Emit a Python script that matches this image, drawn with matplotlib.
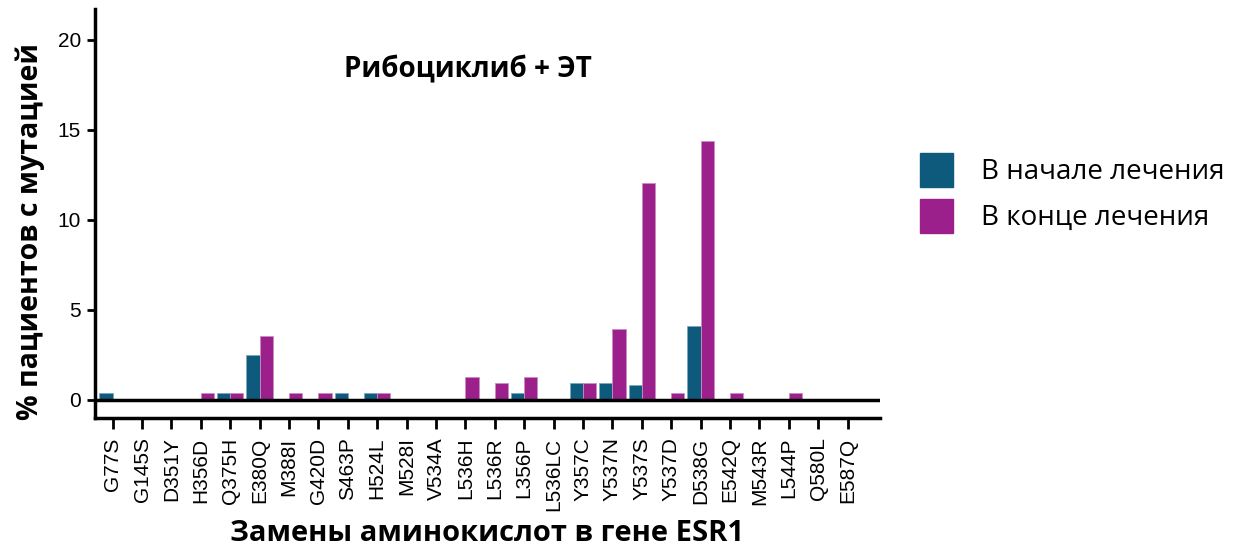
import matplotlib
matplotlib.use("Agg")
import matplotlib.pyplot as plt
import matplotlib.patches as mpatches
import numpy as np

# Data
mutations = ['G77S', 'G145S', 'D351Y', 'H356D', 'Q375H', 'E380Q', 'M388I', 'G420D',
             'S463P', 'H524L', 'M528I', 'V534A', 'L536H', 'L536R', 'L356P', 'L536LC',
             'Y357C', 'Y537N', 'Y537S', 'Y537D', 'D538G', 'E542Q', 'M543R', 'L544P',
             'Q580L', 'E587Q']
start_vals = [0.4, 0, 0, 0, 0.4, 2.5, 0, 0,
              0.4, 0.4, 0, 0, 0, 0, 0.4, 0,
              0.95, 0.95, 0.85, 0, 4.1, 0, 0, 0,
              0, 0]
end_vals = [0, 0, 0, 0.4, 0.4, 3.55, 0.4, 0.4,
            0, 0.4, 0, 0, 1.3, 0.95, 1.3, 0,
            0.95, 3.95, 12.05, 0.4, 14.4, 0.4, 0, 0.4,
            0, 0]
series_labels = ['В начале лечения', 'В конце лечения']
title = 'Рибоциклиб + ЭТ'
xlabel = 'Замены аминокислот в гене ESR1'
ylabel = '% пациентов с мутацией'

BLUE = '#0E5A7C'
MAGENTA = '#9B208C'
BOLD_FONT = ['Open Sans', 'DejaVu Sans']
REG_FONT = ['Open Sans', 'DejaVu Sans']
TICK_FONT = ['Liberation Sans', 'DejaVu Sans']

fig = plt.figure(figsize=(12.48, 5.51), dpi=100)
ax = fig.add_axes([0.0761, 0.2414, 0.705 - 0.0761, 0.9837 - 0.2414])

x = np.arange(len(mutations))
w = 0.45
ax.bar(x - w / 2, start_vals, w, color=BLUE, edgecolor='#7fa6bb', linewidth=0.6, zorder=2)
ax.bar(x + w / 2, end_vals, w, color=MAGENTA, edgecolor='#c98dc0', linewidth=0.6, zorder=2)

# zero line
ax.axhline(0, color='black', lw=2.5, zorder=3)

ax.set_xlim(-0.6, 26.1)
ax.set_ylim(-1.0, 21.7)
ax.set_yticks([0, 5, 10, 15, 20])
ax.set_xticks(x)
ax.set_xticklabels(mutations, rotation=90, family=TICK_FONT, fontsize=15)
for lab in ax.get_yticklabels():
    lab.set_family(TICK_FONT)
    lab.set_fontsize(15)

for side in ['top', 'right']:
    ax.spines[side].set_visible(False)
for side in ['left', 'bottom']:
    ax.spines[side].set_linewidth(2.5)
ax.tick_params(axis='y', length=6, width=2, pad=4)
ax.tick_params(axis='x', length=8, width=2, pad=6)

ax.set_xlabel(xlabel, family=BOLD_FONT, fontweight='bold', fontsize=21, labelpad=6)
ax.set_ylabel(ylabel, family=BOLD_FONT, fontweight='bold', fontsize=20.5)
ax.yaxis.set_label_coords(-0.064, 0.455)
ax.text(0.475, 0.851, title, transform=ax.transAxes, ha='center', va='center',
        family=BOLD_FONT, fontweight='bold', fontsize=20)

handles = [mpatches.Patch(color=BLUE, label=series_labels[0]),
           mpatches.Patch(color=MAGENTA, label=series_labels[1])]
fig.legend(handles=handles, loc='upper left', bbox_to_anchor=(0.717, 0.768),
           frameon=False, prop={'family': REG_FONT, 'size': 20},
           handlelength=1.2, handleheight=1.5, labelspacing=0.45, handletextpad=1.0)

fig.savefig('out.png', dpi=100)
